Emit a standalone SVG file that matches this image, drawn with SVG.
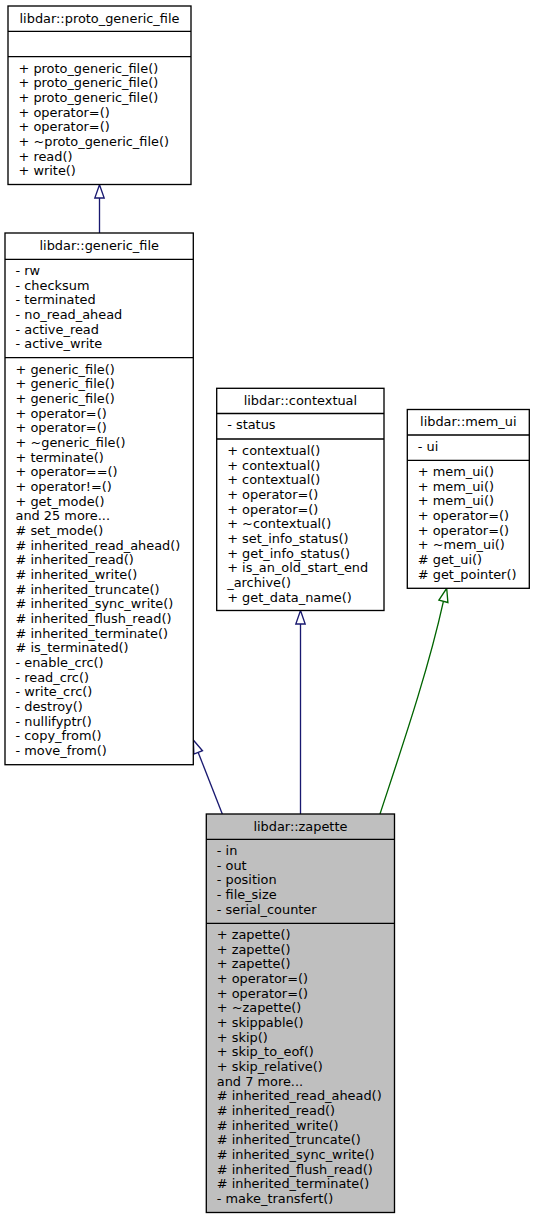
<svg xmlns="http://www.w3.org/2000/svg" width="535" height="1219" viewBox="0 0 535 1219">
<style>
.box{fill:#ffffff;stroke:#000000;stroke-width:1.33}
.cur{fill:#bfbfbf;stroke:#000000;stroke-width:1.33}
.div{stroke:#000000;stroke-width:1.33;fill:none}
text{font-family:"DejaVu Sans","Liberation Sans",sans-serif;font-size:12.9px;fill:#000000}
.ttl{text-anchor:middle}
.eb{fill:none;stroke:#191970;stroke-width:1.33}
.ahb{fill:#ffffff;stroke:#191970;stroke-width:1.33}
.eg{fill:none;stroke:#006400;stroke-width:1.33}
.ahg{fill:#ffffff;stroke:#006400;stroke-width:1.33}
</style>
<rect width="535" height="1219" fill="#ffffff"/>
<g id="connectors">
<path class="eb" d="M99.5,233 V198"/>
<polygon class="ahb" points="99.5,184.7 104.2,198 94.8,198"/>
<path class="eb" d="M222.3,814 L198.2,752.4"/>
<polygon class="ahb" points="193.3,740 202.5,750.7 193.9,754.1"/>
<path class="eb" d="M300.5,814 V624"/>
<polygon class="ahb" points="300.5,610.5 305.2,624 295.8,624"/>
<path class="eg" d="M380,814 C403,744 428,671 443.4,601.3"/>
<polygon class="ahg" points="446.7,588.3 447.9,602.5 438.9,600.2"/>
</g>
<g id="proto_generic_file">
<rect class="box" x="8" y="6" width="183" height="178.5"/>
<path class="div" d="M8,31.3 H191 M8,56.7 H191"/>
<text class="ttl" x="99.5" y="22.5">libdar::proto_generic_file</text>
<text x="18.5" y="72.5">+ proto_generic_file()</text>
<text x="18.5" y="87.2">+ proto_generic_file()</text>
<text x="18.5" y="101.8">+ proto_generic_file()</text>
<text x="18.5" y="116.5">+ operator=()</text>
<text x="18.5" y="131.2">+ operator=()</text>
<text x="18.5" y="145.8">+ ~proto_generic_file()</text>
<text x="18.5" y="160.5">+ read()</text>
<text x="18.5" y="175.2">+ write()</text>
</g>
<g id="generic_file">
<rect class="box" x="5" y="233" width="188.3" height="531.7"/>
<path class="div" d="M5,259.3 H193.3 M5,357.7 H193.3"/>
<text class="ttl" x="99.2" y="249.5">libdar::generic_file</text>
<text x="15.5" y="275.1">- rw</text>
<text x="15.5" y="289.8">- checksum</text>
<text x="15.5" y="304.4">- terminated</text>
<text x="15.5" y="319.1">- no_read_ahead</text>
<text x="15.5" y="333.8">- active_read</text>
<text x="15.5" y="348.4">- active_write</text>
<text x="15.5" y="373.5">+ generic_file()</text>
<text x="15.5" y="388.2">+ generic_file()</text>
<text x="15.5" y="402.8">+ generic_file()</text>
<text x="15.5" y="417.5">+ operator=()</text>
<text x="15.5" y="432.2">+ operator=()</text>
<text x="15.5" y="446.8">+ ~generic_file()</text>
<text x="15.5" y="461.5">+ terminate()</text>
<text x="15.5" y="476.2">+ operator==()</text>
<text x="15.5" y="490.8">+ operator!=()</text>
<text x="15.5" y="505.5">+ get_mode()</text>
<text x="15.5" y="520.2">and 25 more...</text>
<text x="15.5" y="534.8"># set_mode()</text>
<text x="15.5" y="549.5"># inherited_read_ahead()</text>
<text x="15.5" y="564.2"># inherited_read()</text>
<text x="15.5" y="578.8"># inherited_write()</text>
<text x="15.5" y="593.5"># inherited_truncate()</text>
<text x="15.5" y="608.2"># inherited_sync_write()</text>
<text x="15.5" y="622.8"># inherited_flush_read()</text>
<text x="15.5" y="637.5"># inherited_terminate()</text>
<text x="15.5" y="652.2"># is_terminated()</text>
<text x="15.5" y="666.8">- enable_crc()</text>
<text x="15.5" y="681.5">- read_crc()</text>
<text x="15.5" y="696.2">- write_crc()</text>
<text x="15.5" y="710.8">- destroy()</text>
<text x="15.5" y="725.5">- nullifyptr()</text>
<text x="15.5" y="740.2">- copy_from()</text>
<text x="15.5" y="754.8">- move_from()</text>
</g>
<g id="contextual">
<rect class="box" x="216.7" y="388.3" width="167.3" height="222.2"/>
<path class="div" d="M216.7,413.5 H384 M216.7,439 H384"/>
<text class="ttl" x="300.4" y="404.8">libdar::contextual</text>
<text x="227.2" y="429.3">- status</text>
<text x="227.2" y="454.8">+ contextual()</text>
<text x="227.2" y="469.5">+ contextual()</text>
<text x="227.2" y="484.1">+ contextual()</text>
<text x="227.2" y="498.8">+ operator=()</text>
<text x="227.2" y="513.5">+ operator=()</text>
<text x="227.2" y="528.1">+ ~contextual()</text>
<text x="227.2" y="542.8">+ set_info_status()</text>
<text x="227.2" y="557.5">+ get_info_status()</text>
<text x="227.2" y="572.1">+ is_an_old_start_end</text>
<text x="227.2" y="586.8">_archive()</text>
<text x="227.2" y="601.5">+ get_data_name()</text>
</g>
<g id="mem_ui">
<rect class="box" x="407.3" y="409.5" width="122" height="178.8"/>
<path class="div" d="M407.3,435 H529.3 M407.3,460.3 H529.3"/>
<text class="ttl" x="468.3" y="426">libdar::mem_ui</text>
<text x="417.8" y="450.8">- ui</text>
<text x="417.8" y="476.1">+ mem_ui()</text>
<text x="417.8" y="490.8">+ mem_ui()</text>
<text x="417.8" y="505.4">+ mem_ui()</text>
<text x="417.8" y="520.1">+ operator=()</text>
<text x="417.8" y="534.8">+ operator=()</text>
<text x="417.8" y="549.4">+ ~mem_ui()</text>
<text x="417.8" y="564.1"># get_ui()</text>
<text x="417.8" y="578.8"># get_pointer()</text>
</g>
<g id="zapette">
<rect class="cur" x="206.3" y="814" width="188.2" height="398.5"/>
<path class="div" d="M206.3,839.3 H394.5 M206.3,923.3 H394.5"/>
<text class="ttl" x="300.4" y="830.5">libdar::zapette</text>
<text x="216.8" y="855.1">- in</text>
<text x="216.8" y="869.8">- out</text>
<text x="216.8" y="884.4">- position</text>
<text x="216.8" y="899.1">- file_size</text>
<text x="216.8" y="913.8">- serial_counter</text>
<text x="216.8" y="939.1">+ zapette()</text>
<text x="216.8" y="953.8">+ zapette()</text>
<text x="216.8" y="968.4">+ zapette()</text>
<text x="216.8" y="983.1">+ operator=()</text>
<text x="216.8" y="997.8">+ operator=()</text>
<text x="216.8" y="1012.4">+ ~zapette()</text>
<text x="216.8" y="1027.1">+ skippable()</text>
<text x="216.8" y="1041.8">+ skip()</text>
<text x="216.8" y="1056.4">+ skip_to_eof()</text>
<text x="216.8" y="1071.1">+ skip_relative()</text>
<text x="216.8" y="1085.8">and 7 more...</text>
<text x="216.8" y="1100.4"># inherited_read_ahead()</text>
<text x="216.8" y="1115.1"># inherited_read()</text>
<text x="216.8" y="1129.8"># inherited_write()</text>
<text x="216.8" y="1144.4"># inherited_truncate()</text>
<text x="216.8" y="1159.1"># inherited_sync_write()</text>
<text x="216.8" y="1173.8"># inherited_flush_read()</text>
<text x="216.8" y="1188.4"># inherited_terminate()</text>
<text x="216.8" y="1203.1">- make_transfert()</text>
</g>
</svg>
